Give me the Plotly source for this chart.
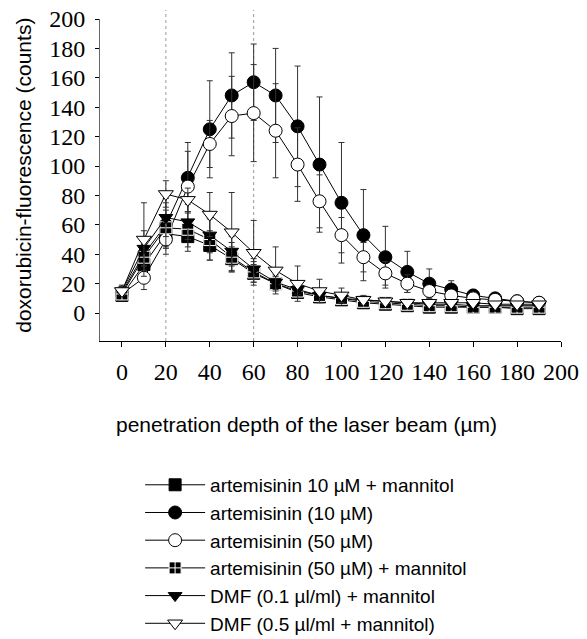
import plotly.graph_objects as go

depth = [0, 10, 20, 30, 40, 50, 60, 70, 80, 90, 100, 110, 120, 130, 140, 150, 160, 170, 180, 190]

names = [
    "artemisinin 10 µM + mannitol",
    "artemisinin (10 µM)",
    "artemisinin (50 µM)",
    "artemisinin (50 µM) + mannitol",
    "DMF (0.1 µl/ml) + mannitol",
    "DMF (0.5 µl/ml + mannitol)",
]

art10_mannitol = [12, 33, 54, 52, 46, 37, 27, 20, 14, 11, 9, 7, 6, 5, 4, 4, 4, 4, 3, 3]
art10_mannitol_err = [3, 8, 10, 10, 10, 8, 6, 4, 3, 2, 2, 2, 1, 1, 1, 1, 1, 1, 1, 1]

art10 = [14, 40, 60, 92, 125, 148, 157, 148, 127, 101, 75, 53, 38, 28, 20, 16, 12, 10, 8, 7]
art10_err = [5, 12, 15, 24, 33, 29, 26, 32, 41, 46, 41, 31, 21, 14, 10, 6, 4, 3, 2, 2]

art50 = [13, 24, 50, 86, 115, 134, 136, 124, 101, 76, 53, 38, 27, 20, 15, 12, 10, 9, 8, 7]
art50_err = [4, 8, 10, 24, 16, 27, 33, 32, 25, 18, 12, 10, 8, 6, 4, 3, 3, 2, 2, 2]

art50_mannitol = [13, 38, 58, 57, 50, 38, 28, 20, 15, 12, 10, 8, 7, 6, 5, 5, 4, 4, 4, 4]
art50_mannitol_err = [3, 9, 12, 12, 14, 10, 7, 5, 3, 2, 2, 2, 1, 1, 1, 1, 1, 1, 1, 1]

dmf01 = [15, 44, 65, 62, 53, 42, 30, 21, 16, 12, 10, 9, 8, 7, 6, 6, 5, 5, 5, 5]
dmf01_err = [3, 12, 13, 12, 12, 10, 7, 5, 3, 2, 2, 2, 1, 1, 1, 1, 1, 1, 1, 1]

dmf05 = [15, 50, 81, 77, 67, 55, 41, 29, 20, 15, 12, 9, 8, 7, 7, 7, 7, 6, 6, 6]
dmf05_err = [3, 25, 9, 8, 15, 27, 22, 16, 12, 8, 5, 3, 2, 2, 2, 1, 1, 1, 1, 1]

x_ticks = [0, 20, 40, 60, 80, 100, 120, 140, 160, 180, 200]
y_ticks = [0, 20, 40, 60, 80, 100, 120, 140, 160, 180, 200]
marked_depths = [20, 60]

series = [
    (art10_mannitol, art10_mannitol_err, "square", "black", "black", 12),
    (art10, art10_err, "circle", "black", "black", 13),
    (art50, art50_err, "circle", "white", "black", 13),
    (art50_mannitol, art50_mannitol_err, "square-cross", "black", "white", 12),
    (dmf01, dmf01_err, "triangle-down", "black", "black", 12),
    (dmf05, dmf05_err, "triangle-down", "white", "black", 13),
]

SANS = "Liberation Sans, Arial, sans-serif"
SERIF = "Times New Roman, Liberation Serif, DejaVu Serif, serif"

fig = go.Figure()
for name, (vals, errs, sym, fill, edge, size) in zip(names, series):
    fig.add_trace(go.Scatter(
        x=depth, y=vals, name=name, mode="lines+markers",
        line=dict(color="black", width=1),
        marker=dict(symbol=sym, color=fill, size=size, line=dict(color=edge, width=1)),
        error_y=dict(type="data", array=errs, visible=True, color="#333", thickness=1, width=3),
    ))

for xv in marked_depths:
    fig.add_shape(type="line", x0=xv, x1=xv, y0=0, y1=1.028, xref="x", yref="paper",
                  line=dict(color="#999", width=1, dash="dot"), layer="below")

fig.add_annotation(text="doxorubicin-fluorescence (counts)", textangle=-90,
                   xref="paper", yref="paper", x=-0.165, y=0.516, showarrow=False,
                   xanchor="center", yanchor="middle",
                   font=dict(family=SANS, size=21, color="black"))
fig.add_annotation(text="penetration depth of the laser beam (µm)",
                   xref="paper", yref="paper", x=0.449, y=-0.258, showarrow=False,
                   xanchor="center", yanchor="middle",
                   font=dict(family=SANS, size=21, color="black"))

fig.update_layout(
    width=587, height=639,
    margin=dict(l=100, r=26, t=19, b=298, autoexpand=False),
    paper_bgcolor="white", plot_bgcolor="white",
    showlegend=True,
    legend=dict(x=0.087, y=-0.388, xanchor="left", yanchor="top",
                font=dict(family=SANS, size=19, color="black"),
                itemwidth=60, tracegroupgap=0, bgcolor="rgba(0,0,0,0)"),
    xaxis=dict(range=[-10, 200], tickmode="array", tickvals=x_ticks,
               showline=True, linecolor="black", linewidth=1, mirror=False,
               ticks="outside", ticklen=5, tickcolor="black", showgrid=False, zeroline=False,
               ticklabelstandoff=4,
               tickfont=dict(family=SERIF, size=24, color="black")),
    yaxis=dict(range=[-19, 200], tickmode="array", tickvals=y_ticks,
               showline=True, linecolor="#666", linewidth=1,
               ticks="outside", ticklen=4, tickcolor="black", showgrid=False, zeroline=False,
               ticklabelstandoff=5,
               tickfont=dict(family=SERIF, size=24, color="black")),
)

fig.write_html("out.html")
